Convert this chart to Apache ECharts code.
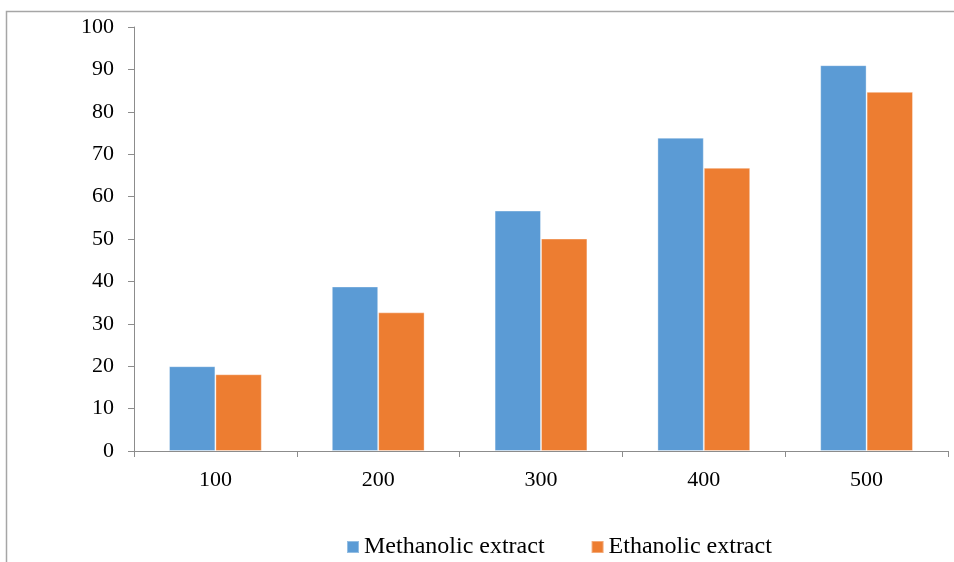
<!DOCTYPE html>
<html>
<head>
<meta charset="utf-8">
<script src="https://cdn.jsdelivr.net/npm/echarts@6/dist/echarts.min.js"></script>
<style>
  html, body { margin: 0; padding: 0; background: #fff; }
  #chart { width: 954px; height: 562px; }
</style>
</head>
<body>
<div id="chart"></div>
<script>
// Concentration groups on the x axis
const categories = ['100', '200', '300', '400', '500'];
// Activity of each extract per concentration
const methanolic = [20, 38.8, 56.7, 73.9, 91];
const ethanolic = [18.1, 32.7, 50.1, 66.8, 84.7];
const seriesNames = ['Methanolic extract', 'Ethanolic extract'];

const font = '"Liberation Serif", "Times New Roman", serif';
const axisGray = '#8c8c8c';

const chart = echarts.init(document.getElementById('chart'), null, { renderer: 'canvas' });

chart.setOption({
  animation: false,
  backgroundColor: '#ffffff',
  graphic: [{
    type: 'rect',
    shape: { x: 6.5, y: 11.5, width: 960, height: 560 },
    style: { fill: 'none', stroke: '#a6a6a6', lineWidth: 1.5 },
    silent: true
  }],
  grid: { left: 134, right: 6, top: 27, bottom: 111, containLabel: false },
  legend: {
    data: seriesNames,
    left: 341,
    top: 530,
    itemWidth: 12,
    itemHeight: 12,
    itemGap: 46,
    icon: 'rect',
    textStyle: { fontFamily: font, fontSize: 24, color: '#000' }
  },
  xAxis: {
    type: 'category',
    data: categories,
    axisLine: { show: true, lineStyle: { color: axisGray, width: 1 } },
    axisTick: { show: true, length: 6, alignWithLabel: false, lineStyle: { color: axisGray } },
    axisLabel: { margin: 18, fontFamily: font, fontSize: 22, color: '#000' },
    splitLine: { show: false }
  },
  yAxis: {
    type: 'value',
    min: 0,
    max: 100,
    interval: 10,
    axisLine: { show: true, lineStyle: { color: axisGray, width: 1 } },
    axisTick: { show: true, length: 6, lineStyle: { color: axisGray } },
    axisLabel: { margin: 20, fontFamily: font, fontSize: 22, color: '#000' },
    splitLine: { show: false }
  },
  series: [
    {
      name: seriesNames[0],
      type: 'bar',
      data: methanolic,
      barGap: '0%',
      barCategoryGap: '43%',
      itemStyle: { color: '#5b9bd5', borderColor: 'rgba(255,255,255,0.35)', borderWidth: 1 }
    },
    {
      name: seriesNames[1],
      type: 'bar',
      data: ethanolic,
      barGap: '0%',
      barCategoryGap: '43%',
      itemStyle: { color: '#ed7d31', borderColor: 'rgba(255,255,255,0.35)', borderWidth: 1 }
    }
  ]
});
</script>
</body>
</html>
